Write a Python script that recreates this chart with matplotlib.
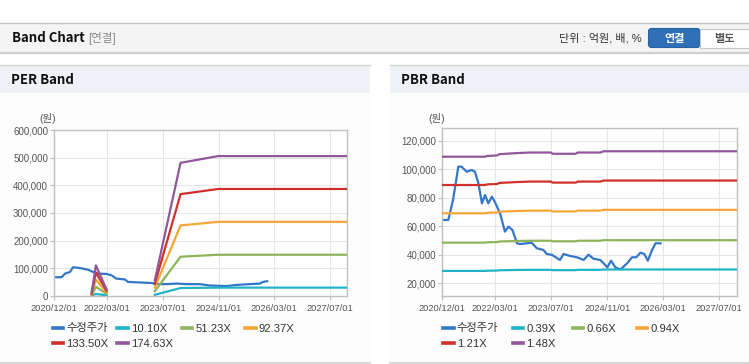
import numpy as np
import pandas as pd
import matplotlib.pyplot as plt
from matplotlib.patches import Rectangle, FancyBboxPatch
from matplotlib.lines import Line2D
from matplotlib.ticker import FuncFormatter

plt.rcParams['font.family'] = ['Liberation Sans', 'Noto Sans CJK KR', 'DejaVu Sans']

# --- data ---
per_price_dates = ['2020-12-01', '2021-02-03', '2021-03-04', '2021-04-16', '2021-05-13', '2021-06-13',
                   '2021-08-10', '2021-09-22', '2021-11-04', '2021-12-19', '2022-03-01', '2022-04-13',
                   '2022-05-25', '2022-08-07', '2022-09-04', '2022-12-16', '2023-03-10', '2023-04-25',
                   '2023-06-07', '2023-08-04', '2023-11-01', '2024-01-25', '2024-05-19', '2024-08-16',
                   '2025-01-10', '2025-04-04', '2025-07-28', '2025-10-25', '2025-11-22', '2025-12-28']
per_price = [67000, 67000, 80000, 86000, 103000, 102000, 98000, 94000, 86000, 80000, 79000, 74000,
             62000, 59000, 50000, 48000, 46500, 44500, 42000, 42000, 44000, 42000, 42000, 37000,
             35000, 39000, 42000, 44000, 50000, 52500]

# EPS behind the PER bands (gap where no band is drawn)
per_eps_dates = ['2021-10-22', '2021-11-28', '2022-03-01', '2022-03-02',
                 '2023-04-25', '2023-12-05', '2024-10-28', '2027-11-23']
per_eps = [60, 630, 130, np.nan, 320, 2760, 2900, 2900]
per_multiples = [10.10, 51.23, 92.37, 133.50, 174.63]

pbr_price_dates = ['2020-12-01', '2021-01-22', '2021-03-04', '2021-04-19', '2021-05-16', '2021-07-01',
                   '2021-08-13', '2021-09-10', '2021-10-10', '2021-11-10', '2021-12-07', '2022-01-04',
                   '2022-02-04', '2022-03-01', '2022-04-16', '2022-05-28', '2022-06-28', '2022-08-01',
                   '2022-09-10', '2022-10-07', '2023-01-15', '2023-03-01', '2023-04-28', '2023-05-25',
                   '2023-07-10', '2023-09-18', '2023-10-19', '2023-12-16', '2024-02-12', '2024-04-10',
                   '2024-05-22', '2024-07-04', '2024-09-01', '2024-10-01', '2024-11-01', '2024-12-04',
                   '2025-01-10', '2025-02-24', '2025-04-22', '2025-06-04', '2025-07-10', '2025-08-16',
                   '2025-09-18', '2025-10-19', '2025-11-25', '2025-12-25', '2026-02-06']
pbr_price = [64500, 64500, 78500, 102000, 102000, 98400, 99600, 98400, 90300, 76200, 82000, 76200,
             80900, 77300, 69200, 56300, 59800, 57500, 48100, 47600, 48500, 44600, 43400, 40600,
             40000, 36400, 40600, 39200, 38300, 36400, 40100, 37300, 36400, 34000, 31200, 35900,
             31200, 29800, 34000, 38300, 38300, 41500, 40600, 35900, 43400, 48100, 48100]

# BPS behind the PBR bands
pbr_bps_dates = ['2020-12-01', '2021-12-01', '2022-01-01', '2022-03-20', '2022-04-10', '2022-09-01',
                 '2023-01-01', '2023-07-01', '2023-07-15', '2024-02-01', '2024-02-20', '2024-09-01',
                 '2024-10-01', '2027-12-04']
pbr_bps = [73600, 73600, 74000, 74200, 74800, 75300, 75600, 75600, 75000, 75000, 75600, 75600,
           76200, 76200]
pbr_multiples = [0.39, 0.66, 0.94, 1.21, 1.48]

x_tick_labels = ['2020/12/01', '2022/03/01', '2023/07/01', '2024/11/01', '2026/03/01', '2027/07/01']
price_label = '수정주가'

price_color = '#3476c8'
band_colors = ['#22b3c6', '#8db55a', '#f3a738', '#d0302c', '#90589a']

W, H = 749, 364
fig = plt.figure(figsize=(W / 100, H / 100), dpi=100)

# page background drawn in pixel coords
bg = fig.add_axes([0, 0, 1, 1], zorder=0)
bg.set_xlim(0, W)
bg.set_ylim(H, 0)
bg.axis('off')

bg.add_patch(Rectangle((0, 22.5), W, 30.5, fc='#f4f4f4', ec='none'))
bg.plot([0, W], [22.5, 22.5], color='#c4c4c4', lw=1)
bg.plot([0, W], [53.2, 53.2], color='#cfcfcf', lw=1.6)
bg.text(11.5, 38.5, 'Band Chart', fontsize=9.5, fontweight='bold', va='center', color='#111',
        family=['Noto Sans CJK KR'])
bg.text(88, 38.5, '[연결]', fontsize=8.3, va='center', color='#8a8a8a')
bg.text(642, 38.5, '단위 : 억원, 배, %', fontsize=8, va='center', ha='right', color='#333')
bg.add_patch(FancyBboxPatch((648.5, 28.5), 51.5, 19, boxstyle='round,pad=0,rounding_size=3',
                            fc='#2f6fb6', ec='#2a61a0', lw=0.8))
bg.text(674.2, 38.3, '연결', fontsize=8, fontweight='bold', va='center', ha='center', color='white',
        family=['Noto Sans CJK KR'])
bg.add_patch(Rectangle((700, 28.5), 52, 19, fc='white', ec='#c8c8c8', lw=0.8))
bg.text(724, 38.3, '별도', fontsize=8, fontweight='bold', va='center', ha='center', color='#555',
        family=['Noto Sans CJK KR'])

for x0, x1, title in [(0, 370, 'PER Band'), (390, W, 'PBR Band')]:
    bg.add_patch(Rectangle((x0, 93), x1 - x0, 270, fc='#fdfdfd', ec='none'))
    bg.add_patch(Rectangle((x0, 64.5), x1 - x0, 28.5, fc='#eef2f7', ec='none'))
    bg.plot([x0, x1], [64.5, 64.5], color='#d6d6d6', lw=1)
    bg.plot([x0, x1], [363.2, 363.2], color='#d0d0d0', lw=1.2)
    bg.text(x0 + 11, 79.5, title, fontsize=9.5, fontweight='bold', va='center', color='#111',
            family=['Noto Sans CJK KR'])

bg.text(48, 118, '(원)', fontsize=7.5, ha='center', va='center', color='#555')
bg.text(436.7, 118, '(원)', fontsize=7.5, ha='center', va='center', color='#555')


def fmt_comma(v, pos):
    return f'{v:,.0f}'


def draw_band(rect, price_dates, price, base_dates, base, multiples, ylim, yticks, xmax):
    ax = fig.add_axes(rect, zorder=1)
    ax.set_facecolor('white')
    ax.plot(pd.to_datetime(price_dates), price, color=price_color, lw=1.6, zorder=2)
    bd = pd.to_datetime(base_dates)
    b = np.array(base, dtype=float)
    for m, c in zip(multiples, band_colors):
        ax.plot(bd, b * m, color=c, lw=1.6, zorder=3)
    ax.set_xlim(pd.Timestamp('2020-12-01'), pd.Timestamp(xmax))
    ax.set_ylim(*ylim)
    ax.set_yticks(yticks)
    ax.yaxis.set_major_formatter(FuncFormatter(fmt_comma))
    ax.set_xticks(pd.to_datetime(x_tick_labels, format='%Y/%m/%d'))
    ax.set_xticklabels(x_tick_labels)
    ax.grid(True, color='#e6e6e6', lw=0.8)
    ax.set_axisbelow(True)
    for s in ax.spines.values():
        s.set_color('#c0c0c0')
        s.set_linewidth(1)
    ax.tick_params(axis='y', length=3, width=0.8, color='#c0c0c0', pad=1.5, labelsize=7, labelcolor='#555')
    ax.tick_params(axis='x', length=3, width=0.8, color='#c0c0c0', pad=3, labelsize=6.7, labelcolor='#555')
    return ax


draw_band([54.3 / W, 1 - 295.7 / H, (347 - 54.3) / W, (295.7 - 130.3) / H],
          per_price_dates, per_price, per_eps_dates, per_eps, per_multiples,
          (0, 600000), np.arange(0, 600001, 100000), '2027-11-23')
draw_band([442.3 / W, 1 - 295.7 / H, (737.3 - 442.3) / W, (295.7 - 128.3) / H],
          pbr_price_dates, pbr_price, pbr_bps_dates, pbr_bps, pbr_multiples,
          (11300, 128900), np.arange(20000, 120001, 20000), '2027-12-04')


def add_legend(multiples, col_x):
    labels = [price_label] + [f'{m:.2f}X' for m in multiples]
    colors = [price_color] + band_colors
    columns = [[0, 4], [1, 5], [2], [3]]
    for idx, x in zip(columns, col_x):
        hs = [Line2D([], [], color=colors[i], lw=2.6) for i in idx]
        fig.legend(hs, [labels[i] for i in idx], loc='upper left',
                   bbox_to_anchor=(x / W, 1 - 323.5 / H), bbox_transform=fig.transFigure,
                   frameon=False, fontsize=8.1, handlelength=0.95, handletextpad=0.25,
                   borderpad=0, borderaxespad=0, labelspacing=0.45, labelcolor='#333')


add_legend(per_multiples, [52.7, 117.3, 181.7, 245])
add_legend(pbr_multiples, [443.3, 512.7, 572.7, 636.7])

fig.savefig('out.png', dpi=100)
